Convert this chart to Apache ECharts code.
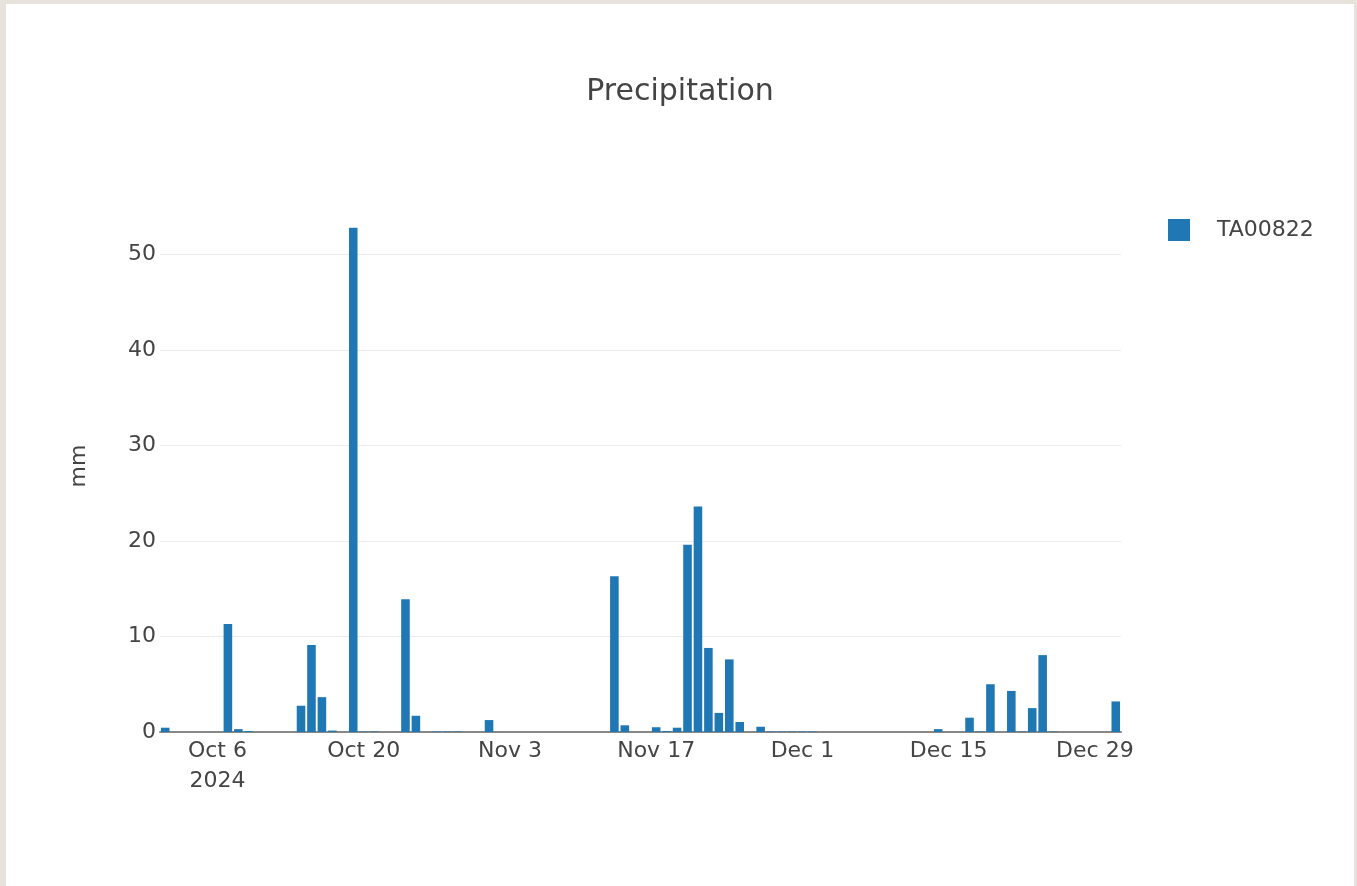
<!DOCTYPE html>
<html>
<head>
<meta charset="utf-8">
<script src="https://cdn.jsdelivr.net/npm/echarts@6/dist/echarts.min.js"></script>
<style>
  html, body { margin: 0; padding: 0; background: #e7e2dc; }
  #wrap { position: absolute; left: 6px; top: 4px; width: 1348px; height: 882px; background: #fff; }
  #chart { width: 1348px; height: 882px; }
</style>
</head>
<body>
<div id="wrap"><div id="chart"></div></div>
<script>
// daily precipitation, Oct 1 - Dec 31 2024
var startDate = '2024-10-01';
var dayCount = 92;
var precip = [
  0.45, 0, 0, 0, 0, 0, 11.3, 0.3, 0.1, 0, 0, 0, 0, 2.75, 9.1, 3.65, 0.15, 0, 52.8, 0.05,
  0.05, 0, 0, 13.9, 1.7, 0, 0.05, 0.05, 0.05, 0, 0, 1.25, 0, 0, 0, 0, 0, 0, 0, 0,
  0, 0, 0, 16.3, 0.7, 0, 0, 0.5, 0.1, 0.45, 19.6, 23.6, 8.8, 2.0, 7.6, 1.05, 0, 0.55, 0.05, 0.05,
  0.05, 0.05, 0.05, 0, 0, 0, 0, 0, 0, 0, 0, 0, 0, 0, 0.3, 0, 0, 1.5, 0.05, 5.0,
  0, 4.3, 0.05, 2.5, 8.05, 0.05, 0, 0, 0, 0, 0, 3.2
];
var tickDates = ['2024-10-06', '2024-10-20', '2024-11-03', '2024-11-17', '2024-12-01', '2024-12-15', '2024-12-29'];
var tickLabels = ['Oct 6\n2024', 'Oct 20', 'Nov 3', 'Nov 17', 'Dec 1', 'Dec 15', 'Dec 29'];
var yTicks = [0, 10, 20, 30, 40, 50];

var days = [];
var d0 = new Date(startDate + 'T00:00:00Z');
for (var i = 0; i < dayCount; i++) {
  var d = new Date(d0.getTime() + i * 86400000);
  days.push(d.toISOString().slice(0, 10));
}

var font = 'DejaVu Sans, Verdana, sans-serif';
var chart = echarts.init(document.getElementById('chart'));
chart.setOption({
  animation: false,
  title: {
    text: 'Precipitation',
    left: 'center',
    top: 68,
    textStyle: { fontFamily: font, fontSize: 30, fontWeight: 'normal', color: '#444' }
  },
  legend: {
    left: 1157,
    top: 210,
    itemWidth: 22,
    itemHeight: 22,
    icon: 'rect',
    textStyle: { fontFamily: font, fontSize: 22, color: '#444', padding: [0, 0, 0, 22] },
    data: ['TA00822']
  },
  grid: { left: 154, right: 233, top: 196, bottom: 154 },
  xAxis: {
    type: 'category',
    data: days,
    axisTick: { show: false },
    axisLine: { lineStyle: { color: '#888', width: 2 } },
    axisLabel: {
      fontFamily: font,
      fontSize: 22,
      color: '#444',
      lineHeight: 30,
      margin: 4,
      interval: function (idx, val) { return tickDates.indexOf(val) >= 0; },
      formatter: function (val) { return tickLabels[tickDates.indexOf(val)]; }
    }
  },
  yAxis: {
    type: 'value',
    min: yTicks[0],
    max: 55.7,
    interval: 10,
    name: 'mm',
    nameLocation: 'middle',
    nameGap: 70,
    nameTextStyle: { fontFamily: font, fontSize: 22, color: '#444' },
    axisLine: { show: false },
    axisTick: { show: false },
    axisLabel: { fontFamily: font, fontSize: 22, color: '#444', margin: 4, showMaxLabel: false },
    splitLine: { showMaxLine: false, lineStyle: { color: '#ebebeb', width: 1 } }
  },
  series: [{
    name: 'TA00822',
    type: 'bar',
    data: precip,
    barWidth: '82%',
    itemStyle: { color: '#1f77b4' }
  }]
});
</script>
</body>
</html>
